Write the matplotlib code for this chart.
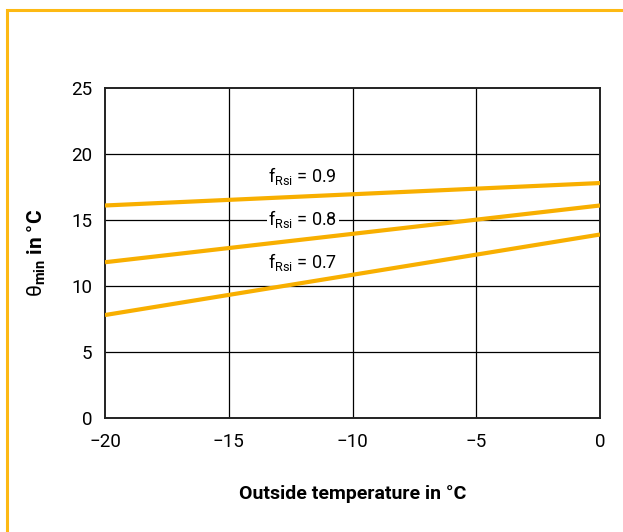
import matplotlib
matplotlib.use("Agg")
import matplotlib.pyplot as plt
from matplotlib.patches import Rectangle

# data
outside_temp = [-20, 0]
theta_09 = [16.1, 17.8]
theta_08 = [11.8, 16.1]
theta_07 = [7.8, 13.9]
series = [("0.9", theta_09), ("0.8", theta_08), ("0.7", theta_07)]
label_pos = {"0.9": (-13.4, 18.3), "0.8": (-13.4, 15.1), "0.7": (-13.4, 11.8)}

x_ticks = [-20, -15, -10, -5, 0]
x_tick_labels = ["\u221220", "\u221215", "\u221210", "\u22125", "0"]
y_ticks = [0, 5, 10, 15, 20, 25]

orange = "#F8AF00"
plt.rcParams["font.family"] = ["Roboto", "DejaVu Sans"]
plt.rcParams["mathtext.fontset"] = "custom"
plt.rcParams["mathtext.rm"] = "Roboto"
plt.rcParams["mathtext.bf"] = "Roboto:bold"
plt.rcParams["mathtext.it"] = "Roboto:italic"

fig = plt.figure(figsize=(6.23, 5.32), dpi=100)
ax = fig.add_axes([105 / 623, 114 / 532, 495 / 623, 330 / 532])

# frame around the whole figure (only top and left edges visible)
fig.patches.append(Rectangle((7 / 623, -0.2), 1.2, 1.2 - 10 / 532,
                             transform=fig.transFigure, fill=False,
                             edgecolor="#FDB913", linewidth=2.2))

for x in x_ticks[1:-1]:
    ax.axvline(x, color="black", linewidth=0.9, zorder=1)
for y in y_ticks[1:-1]:
    ax.axhline(y, color="black", linewidth=0.9, zorder=1)

for name, vals in series:
    ax.plot(outside_temp, vals, color=orange, linewidth=3, solid_capstyle="butt", zorder=3)
    lx, ly = label_pos[name]
    ax.text(lx, ly, r"f$_{\mathrm{Rsi}}$ = " + name, fontsize=13, va="center", ha="left",
            zorder=2, bbox=dict(facecolor="white", edgecolor="none", pad=1))

ax.set_xlim(-20, 0)
ax.set_ylim(0, 25)
ax.set_xticks(x_ticks)
ax.set_xticklabels(x_tick_labels)
ax.set_yticks(y_ticks)
ax.tick_params(length=0, labelsize=13.5, pad=11)
ax.tick_params(axis="y", pad=9)
for s in ax.spines.values():
    s.set_linewidth(1.4)
    s.set_color("#222222")

ax.set_xlabel("Outside temperature in °C", fontsize=14, fontweight="bold", labelpad=24)
ax.set_ylabel(r"$\mathrm{θ}_{\mathbf{min}}$ in °C", fontsize=15, fontweight="bold", labelpad=17)

fig.savefig("out.png", dpi=100)
